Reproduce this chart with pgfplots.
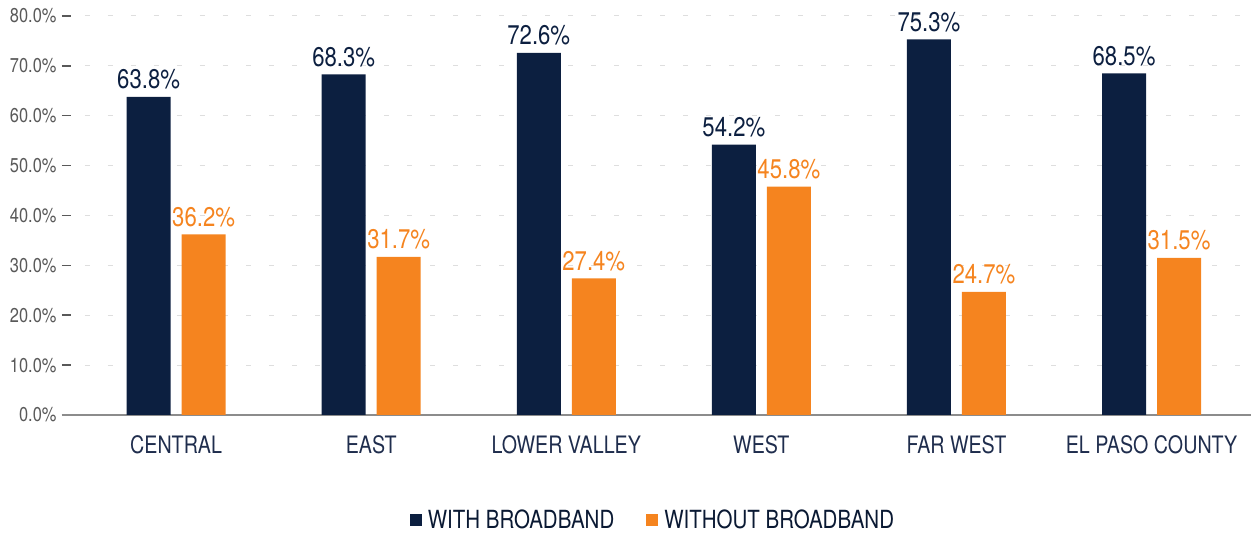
\documentclass[border=0pt]{standalone}
\usepackage{pgfplots}
\pgfplotsset{compat=1.18}
\usepackage{fontspec}
\setmainfont[FakeStretch=0.82]{TeX Gyre Heros}
\definecolor{navy}{HTML}{0C1F40}
\definecolor{orng}{HTML}{F5841F}
\definecolor{tickgray}{HTML}{595959}
\definecolor{catcol}{HTML}{1F2D4D}
\begin{document}
\begin{tikzpicture}
\path[use as bounding box] (-62pt,-119pt) rectangle (1189pt,415pt);
\begin{axis}[
  at={(0pt,0pt)}, anchor=south west,
  scale only axis, width=1189pt, height=399pt,
  ybar=11pt, bar width=44pt,
  xmin=-0.585, xmax=5.51, ymin=0, ymax=80,
  xtick={0,1,2,3,4,5},
  xticklabels={CENTRAL,EAST,LOWER VALLEY,WEST,FAR WEST,EL PASO COUNTY},
  ytick={0,10,20,30,40,50,60,70,80},
  /pgf/number format/assume math mode=true,
  yticklabel={\pgfmathprintnumber[fixed,fixed zerofill,precision=1]{\tick}\%},
  yticklabel style={font=\fontsize{20}{22}\selectfont, text=tickgray, anchor=east, xshift=-2pt},
  xticklabel style={font=\fontsize{24}{26}\selectfont, text=catcol, yshift=-17pt},
  axis x line*=bottom, axis y line*=left,
  x axis line style={draw=gray!90, line width=2pt},
  y axis line style={draw=none},
  major x tick style={draw=none},
  ymajorgrids, grid style={draw=black!13, line width=1pt, dash pattern=on 5pt off 18pt},
  major y tick style={draw=tickgray, line width=1.5pt},
  major tick length=9pt, tick align=inside,
  clip=false,
  nodes near coords={\pgfmathprintnumber[fixed,fixed zerofill,precision=1]{\pgfplotspointmeta}\%},
  every node near coord/.append style={font=\fontsize{27}{29}\selectfont, yshift=4pt},
  legend style={at={(0.497,-0.262)}, anchor=center, draw=none, legend columns=2,
    font=\fontsize{25}{27}\selectfont, text=navy!80!black,
    /tikz/every odd column/.append style={column sep=4pt},
    /tikz/every even column/.append style={column sep=30pt}},
  legend image code/.code={\fill[#1] (0pt,-6pt) rectangle (12pt,6pt);},
]
\addplot[fill=navy, draw=none, nodes near coords style={text=navy}] coordinates {(0,63.8) (1,68.3) (2,72.6) (3,54.2) (4,75.3) (5,68.5)};
\addlegendentry{WITH BROADBAND}
\addplot[fill=orng, draw=none, nodes near coords style={text=orng}] coordinates {(0,36.2) (1,31.7) (2,27.4) (3,45.8) (4,24.7) (5,31.5)};
\addlegendentry{WITHOUT BROADBAND}
\end{axis}
\end{tikzpicture}
\end{document}
